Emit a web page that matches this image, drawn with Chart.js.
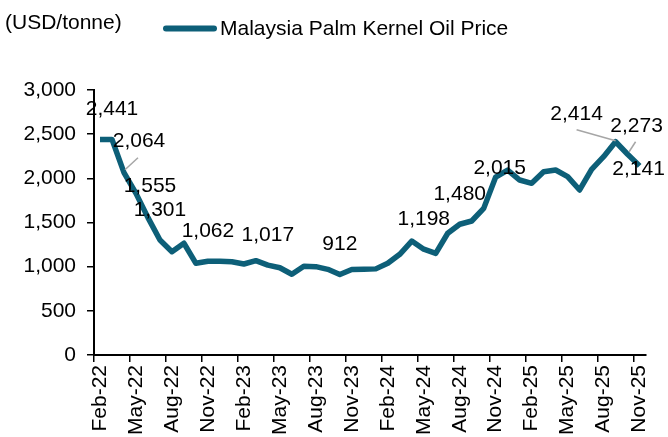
<!DOCTYPE html>
<html>
<head>
<meta charset="utf-8">
<script src="https://cdn.jsdelivr.net/npm/chart.js@4.4.1/dist/chart.umd.min.js"></script>
<style>
  html, body { margin: 0; padding: 0; background: #fff; }
  #wrap { width: 668px; height: 437px; position: relative; }
</style>
</head>
<body>
<div id="wrap"><canvas id="chart"></canvas></div>
<script>
// Malaysia palm kernel oil, monthly, USD/tonne
const months = [
  "Feb-22", "Mar-22", "Apr-22", "May-22", "Jun-22", "Jul-22", "Aug-22", "Sep-22", "Oct-22", "Nov-22", "Dec-22",
  "Jan-23", "Feb-23", "Mar-23", "Apr-23", "May-23", "Jun-23", "Jul-23", "Aug-23", "Sep-23", "Oct-23", "Nov-23", "Dec-23",
  "Jan-24", "Feb-24", "Mar-24", "Apr-24", "May-24", "Jun-24", "Jul-24", "Aug-24", "Sep-24", "Oct-24", "Nov-24", "Dec-24",
  "Jan-25", "Feb-25", "Mar-25", "Apr-25", "May-25", "Jun-25", "Jul-25", "Aug-25", "Sep-25", "Oct-25", "Nov-25"
];
const prices = [
  2441, 2441, 2064, 1830, 1555, 1301, 1170, 1265, 1038, 1062, 1062,
  1056, 1030, 1068, 1017, 988, 914, 1005, 1000, 970, 912, 968, 970,
  975, 1038, 1140, 1290, 1198, 1151, 1378, 1480, 1517, 1660, 2015, 2094,
  1981, 1944, 2075, 2094, 2019, 1868, 2102, 2245, 2414, 2273, 2141
];
// points that carry a value label
const labeledPoints = [1, 2, 4, 5, 9, 14, 20, 27, 30, 33, 43, 44, 45];
const yTicks = [0, 500, 1000, 1500, 2000, 2500, 3000];

const FONT = '"Liberation Sans", Arial, sans-serif';
const FONT_SIZE = 21;
const LINE_COLOR = '#0d5f78';

// label placement relative to the point, [dx, dy], plus optional leader line
const labelPos = {
  2:  { d: [15, -31], leader: [[14, -15], [1, -3]] },
  4:  { d: [2, -31] },
  33: { d: [4, -9] },
  43: { d: [-39, -28], leader: [[-39, -12], [0, -1]] },
  44: { d: [9, -28], leader: [[8, -12.5], [1.5, -2.5]] },
  45: { d: [-1, 3] }
};

const valueLabels = {
  id: 'valueLabels',
  afterDatasetsDraw(chart) {
    const ctx = chart.ctx;
    const meta = chart.getDatasetMeta(0);
    ctx.save();
    labeledPoints.forEach(i => {
      const pt = meta.data[i];
      const p = labelPos[i] || { d: [0, -30] };
      if (p.leader) {
        ctx.strokeStyle = '#a6a6a6';
        ctx.lineWidth = 1.5;
        ctx.beginPath();
        ctx.moveTo(pt.x + p.leader[0][0], pt.y + p.leader[0][1]);
        ctx.lineTo(pt.x + p.leader[1][0], pt.y + p.leader[1][1]);
        ctx.stroke();
      }
      ctx.fillStyle = '#000';
      ctx.font = FONT_SIZE + 'px ' + FONT;
      ctx.textAlign = 'center';
      ctx.textBaseline = 'middle';
      ctx.fillText(prices[i].toLocaleString('en-US'), pt.x + p.d[0], pt.y + p.d[1]);
    });
    ctx.restore();
  }
};

const header = {
  id: 'header',
  afterDraw(chart) {
    const ctx = chart.ctx;
    ctx.save();
    ctx.fillStyle = '#000';
    ctx.font = FONT_SIZE + 'px ' + FONT;
    ctx.textAlign = 'left';
    ctx.textBaseline = 'alphabetic';
    ctx.fillText('(USD/tonne)', 5, 29);
    // legend
    ctx.strokeStyle = LINE_COLOR;
    ctx.lineWidth = 6;
    ctx.lineCap = 'round';
    ctx.beginPath();
    ctx.moveTo(166, 28.5);
    ctx.lineTo(214, 28.5);
    ctx.stroke();
    ctx.fillText(chart.data.datasets[0].label, 220, 35);
    ctx.restore();
  }
};

new Chart(document.getElementById('chart'), {
  type: 'line',
  data: {
    labels: months,
    datasets: [{
      label: 'Malaysia Palm Kernel Oil Price',
      data: prices,
      borderColor: LINE_COLOR,
      borderWidth: 5.5,
      borderJoinStyle: 'round',
      pointRadius: 0,
      tension: 0,
      fill: false
    }]
  },
  options: {
    responsive: true,
    maintainAspectRatio: false,
    animation: false,
    devicePixelRatio: 1,
    layout: { padding: { top: 90, right: 20, left: 0, bottom: 0 } },
    plugins: {
      legend: { display: false },
      tooltip: { enabled: false }
    },
    scales: {
      x: {
        type: 'category',
        offset: true,
        grid: {
          offset: true,
          drawOnChartArea: false,
          tickLength: 7,
          lineWidth: 1.5,
          color: c => (c.index % 3 === 0 ? '#000' : 'rgba(0,0,0,0)')
        },
        border: { color: '#000', width: 2 },
        ticks: {
          autoSkip: false,
          maxRotation: 90,
          minRotation: 90,
          padding: 3,
          color: '#000',
          font: { family: FONT, size: FONT_SIZE },
          callback: (v, i) => (i % 3 === 0 ? months[i] : '')
        },
        afterFit: s => { s.height = 82; }
      },
      y: {
        min: 0,
        max: 3000,
        afterBuildTicks: s => { s.ticks = yTicks.map(v => ({ value: v })); },
        grid: { drawOnChartArea: false, tickLength: 7, lineWidth: 1.5, color: '#000' },
        border: { color: '#000', width: 2 },
        ticks: {
          padding: 11,
          color: '#000',
          font: { family: FONT, size: FONT_SIZE },
          callback: v => v.toLocaleString('en-US')
        },
        afterFit: s => { s.width = 94; }
      }
    }
  },
  plugins: [valueLabels, header]
});
</script>
</body>
</html>
